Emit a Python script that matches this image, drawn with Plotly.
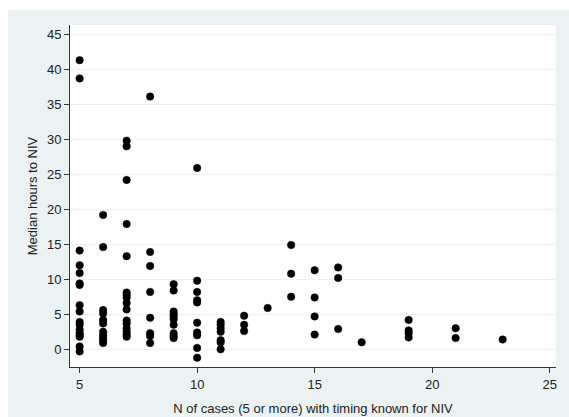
import plotly.graph_objects as go

# N of cases (5 or more) with timing known for NIV, per unit
n_cases = (
    [5] * 17 + [6] * 11 + [7] * 16 + [8] * 8 + [9] * 10 + [10] * 10 + [11] * 7
    + [12] * 3 + [13] * 1 + [14] * 3 + [15] * 4 + [16] * 3 + [17] * 1
    + [19] * 4 + [21] * 2 + [23] * 1
)

# Median hours to NIV, per unit (same order as n_cases)
median_hours = (
    [41.3, 38.7, 14.1, 12.0, 10.9, 9.4, 9.2, 6.3, 5.4, 3.9, 3.5, 2.8, 2.3, 2.0, 1.8, 0.4, -0.3]
    + [19.2, 14.6, 5.6, 5.1, 4.2, 3.7, 2.5, 2.0, 1.6, 1.3, 0.9]
    + [29.8, 29.0, 24.2, 17.9, 13.3, 8.1, 7.8, 7.4, 6.6, 5.7, 4.1, 3.7, 3.0, 2.5, 2.1, 1.8]
    + [36.1, 13.9, 11.9, 8.2, 4.5, 2.3, 1.9, 0.9]
    + [9.3, 8.4, 5.4, 5.0, 4.7, 4.3, 3.5, 2.3, 1.9, 1.6]
    + [25.9, 9.8, 8.2, 7.0, 6.7, 3.8, 2.4, 2.0, 0.2, -1.2]
    + [3.9, 3.5, 3.0, 2.5, 1.3, 1.0, 0.0]
    + [4.8, 3.5, 2.6]
    + [5.9]
    + [14.9, 10.8, 7.5]
    + [11.3, 7.4, 4.7, 2.1]
    + [11.7, 10.2, 2.9]
    + [1.0]
    + [4.2, 2.7, 2.3, 1.7]
    + [3.0, 1.6]
    + [1.4]
)

x_ticks = [5, 10, 15, 20, 25]
y_ticks = [0, 5, 10, 15, 20, 25, 30, 35, 40, 45]

BG = "#EAF2F3"
FONT = "Liberation Sans, Arial, sans-serif"

fig = go.Figure(
    go.Scatter(
        x=n_cases,
        y=median_hours,
        mode="markers",
        marker=dict(size=7.5, color="black", line=dict(width=0.5, color="black")),
        hoverinfo="x+y",
    )
)

fig.update_layout(
    width=569,
    height=417,
    margin=dict(l=70, r=13, t=25, b=50),
    paper_bgcolor=BG,
    plot_bgcolor="white",
    showlegend=False,
    font=dict(family=FONT, size=13, color="#222222"),
    # thin white strips along the top and left edges of the page
    shapes=[
        dict(type="rect", xref="paper", yref="paper", x0=-0.2, x1=1.1,
             y0=1.0439, y1=1.2, fillcolor="white", line=dict(width=0), layer="above"),
        dict(type="rect", xref="paper", yref="paper", x0=-0.2, x1=-0.1276,
             y0=-0.2, y1=1.2, fillcolor="white", line=dict(width=0), layer="above"),
    ],
    xaxis=dict(
        range=[4.59, 25.27],
        tickvals=x_ticks,
        ticks="outside",
        ticklen=5,
        tickcolor="#333333",
        showgrid=False,
        zeroline=False,
        showline=True,
        linecolor="#333333",
        linewidth=1,
        automargin=False,
        tickfont=dict(size=13, color="#222222"),
        title=dict(text="N of cases (5 or more) with timing known for NIV",
                   font=dict(size=13), standoff=13),
    ),
    yaxis=dict(
        range=[-2.53, 46.33],
        tickvals=y_ticks,
        ticks="outside",
        ticklen=5,
        tickcolor="#333333",
        showgrid=True,
        gridcolor=BG,
        gridwidth=1,
        zeroline=False,
        showline=True,
        linecolor="#333333",
        linewidth=1,
        automargin=False,
        tickfont=dict(size=13, color="#222222"),
        title=dict(text="Median hours to NIV", font=dict(size=13), standoff=6),
    ),
)

fig.write_html("out.html")
